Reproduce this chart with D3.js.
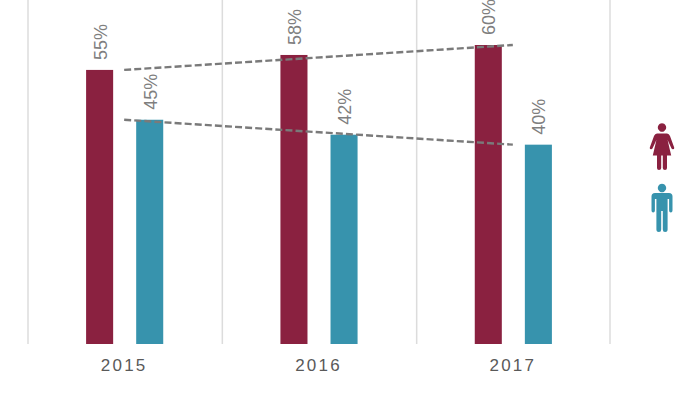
<!DOCTYPE html>
<html>
<head>
<meta charset="utf-8">
<script src="https://cdn.jsdelivr.net/npm/d3@7"></script>
<style>
  html, body { margin: 0; padding: 0; background: #fff; }
  svg { display: block; }
  text { font-family: "Liberation Sans", Arial, sans-serif; }
</style>
</head>
<body>
<div id="chart"></div>
<script>
const years = ["2015", "2016", "2017"];
const seriesNames = ["women", "men"];
const women = [55, 58, 60];
const men = [45, 42, 40];

const colors = { women: "#8a2140", men: "#3793ad" };
const width = 700, height = 393;

const svg = d3.select("#chart").append("svg")
  .attr("width", width)
  .attr("height", height);

// 3 equal groups between the outer grid lines
const x = d3.scaleBand().domain(years).range([28, 611]);
const x1 = d3.scaleBand().domain(seriesNames).range([-0.5, x.bandwidth() - 0.5])
  .paddingInner(0.46).paddingOuter(1.17);
const y = d3.scaleLinear().domain([0, 60]).range([344, 45]);

// vertical separators
const edges = years.map(d => x(d)).concat(x.range()[1] - 1);
svg.append("g").selectAll("line")
  .data(edges)
  .join("line")
  .attr("x1", d => d).attr("x2", d => d)
  .attr("y1", 0).attr("y2", 344)
  .attr("stroke", "#dcdcdc")
  .attr("stroke-width", 1.5);

// bars and labels, one group per series
const series = [
  { name: "women", values: women },
  { name: "men", values: men }
];

series.forEach(s => {
  const rows = years.map((yr, i) => ({ yr: yr, v: s.values[i] }));

  svg.append("g").selectAll("rect")
    .data(rows)
    .join("rect")
    .attr("x", d => x(d.yr) + x1(s.name))
    .attr("y", d => y(d.v))
    .attr("width", x1.bandwidth())
    .attr("height", d => y(0) - y(d.v))
    .attr("fill", colors[s.name]);

  svg.append("g").selectAll("text")
    .data(rows)
    .join("text")
    .attr("transform", d => "translate(" + (x(d.yr) + x1(s.name) + x1.bandwidth() / 2 + 7) + "," + (y(d.v) - 10) + ") rotate(-90)")
    .attr("font-size", 18)
    .attr("fill", "#7f7f7f")
    .text(d => d.v + "%");
});

// dashed trend from first to last year
const trend = d3.line()
  .x(d => x(d.yr) + x.bandwidth() / 2 - 1)
  .y(d => y(d.v));

series.forEach(s => {
  const ends = [0, years.length - 1].map(i => ({ yr: years[i], v: s.values[i] }));
  svg.append("path")
    .attr("d", trend(ends))
    .attr("fill", "none")
    .attr("stroke", "#7a7a7a")
    .attr("stroke-width", 2.4)
    .attr("stroke-dasharray", "7,3.1");
});

// year axis
const axis = svg.append("g")
  .attr("transform", "translate(-1,344)")
  .call(d3.axisBottom(x).tickSize(0).tickPadding(15));
axis.select(".domain").remove();
axis.selectAll("text")
  .attr("font-size", 17)
  .attr("letter-spacing", 2.2)
  .attr("fill", "#595959")
  .style("font-family", '"Liberation Sans", Arial, sans-serif');

// legend icons
const womanIcon = "M0,-24.2a4.2,4.2 0 1,1 -0.01,0Z M-5,-14 L5,-14 Q7,-14 8,-11.5 L12.2,0 Q12.5,1.5 11.2,1.8 Q10,2 9.4,0.8 L5.6,-7.5 L9.2,8 L5,8 L5,20.5 Q5,22.5 3,22.5 Q0.8,22.5 0.8,20.5 L0.8,8 L-0.8,8 L-0.8,20.5 Q-0.8,22.5 -3,22.5 Q-5,22.5 -5,20.5 L-5,8 L-9.2,8 L-5.6,-7.5 L-9.4,0.8 Q-10,2 -11.2,1.8 Q-12.5,1.5 -12.2,0 L-8,-11.5 Q-7,-14 -5,-14Z";
const manIcon = "M0,-24.2a4.2,4.2 0 1,1 -0.01,0Z M-7,-15 L7,-15 Q10.5,-15 10.5,-11.5 L10.5,2.5 Q10.5,4.5 8.8,4.5 Q7.1,4.5 7.1,2.5 L7.1,-9 L5.6,-9 L5.6,21.5 Q5.6,24 3.1,24 Q0.8,24 0.8,21.5 L0.8,3 L-0.8,3 L-0.8,21.5 Q-0.8,24 -3.1,24 Q-5.6,24 -5.6,21.5 L-5.6,-9 L-7.1,-9 L-7.1,2.5 Q-7.1,4.5 -8.8,4.5 Q-10.5,4.5 -10.5,2.5 L-10.5,-11.5 Q-10.5,-15 -7,-15Z";

svg.append("path")
  .attr("transform", "translate(662,147.5)")
  .attr("d", womanIcon)
  .attr("fill", colors.women);
svg.append("path")
  .attr("transform", "translate(662,208)")
  .attr("d", manIcon)
  .attr("fill", colors.men);
</script>
</body>
</html>
